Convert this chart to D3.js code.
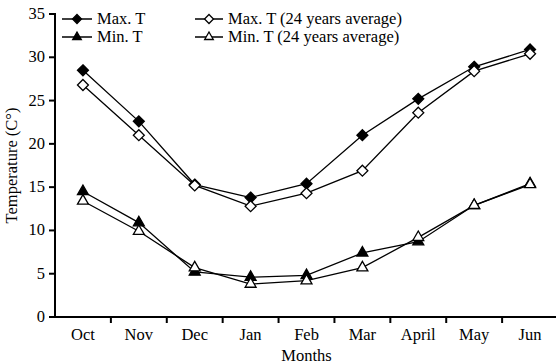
<!DOCTYPE html>
<html>
<head>
<meta charset="utf-8">
<script src="https://cdn.jsdelivr.net/npm/d3@7"></script>
<style>
  html, body { margin: 0; padding: 0; background: #fff; }
  svg { display: block; }
  svg text { font-family: "Liberation Serif", "Times New Roman", Times, serif; font-size: 16.5px; fill: #000; }
</style>
</head>
<body>
<svg id="chart" width="556" height="364"></svg>
<script>
// Monthly temperatures, October to June
const months = ["Oct", "Nov", "Dec", "Jan", "Feb", "Mar", "April", "May", "Jun"];
const maxT = [28.5, 22.6, 15.3, 13.8, 15.4, 21.0, 25.2, 28.9, 30.9];
const maxTAvg = [26.8, 21.0, 15.2, 12.8, 14.3, 16.9, 23.6, 28.4, 30.4];
const minT = [14.5, 10.9, 5.2, 4.6, 4.8, 7.4, 8.7, 12.9, 15.4];
const minTAvg = [13.4, 9.9, 5.7, 3.8, 4.2, 5.7, 9.2, 12.9, 15.3];
const yTicks = [0, 5, 10, 15, 20, 25, 30, 35];

// Diamond drawn as a square turned 45 degrees
const diamond = {
  draw(ctx, size) {
    const r = Math.sqrt(size / 2);
    ctx.moveTo(0, -r); ctx.lineTo(r, 0); ctx.lineTo(0, r); ctx.lineTo(-r, 0); ctx.closePath();
  }
};

const series = [
  { name: "Max. T", values: maxT, shape: diamond, fill: "#000" },
  { name: "Min. T", values: minT, shape: d3.symbolTriangle, fill: "#000" },
  { name: "Max. T (24 years average)", values: maxTAvg, shape: diamond, fill: "#fff" },
  { name: "Min. T (24 years average)", values: minTAvg, shape: d3.symbolTriangle, fill: "#fff" }
];

const svg = d3.select("#chart");
const plotLeft = 55, plotRight = 558, plotTop = 14, plotBottom = 317;

const x = d3.scaleBand().domain(months).range([plotLeft, plotRight]);
const y = d3.scaleLinear().domain([0, 35]).range([plotBottom, plotTop]);
const cx = m => x(m) + x.bandwidth() / 2;

// X axis: ticks between categories, labels centred in each band
const xAxis = svg.append("g").attr("transform", `translate(0,${plotBottom})`);
xAxis.append("line").attr("x1", plotLeft).attr("x2", 556).attr("stroke", "#000").attr("stroke-width", 2);
xAxis.selectAll("line.tk").data(months.slice(1)).join("line").attr("class", "tk")
  .attr("x1", d => x(d)).attr("x2", d => x(d))
  .attr("y1", 0).attr("y2", 6).attr("stroke", "#000").attr("stroke-width", 2);
xAxis.selectAll("text").data(months).join("text")
  .attr("x", d => cx(d))
  .attr("y", 23)
  .attr("text-anchor", "middle")
  .text(d => d);

// Y axis
const yAxis = svg.append("g").attr("transform", `translate(${plotLeft},0)`);
yAxis.append("line").attr("y1", plotTop - 1).attr("y2", plotBottom + 1).attr("stroke", "#000").attr("stroke-width", 2);
yAxis.selectAll("line.tk").data(yTicks).join("line").attr("class", "tk")
  .attr("x1", -6).attr("x2", 0)
  .attr("y1", d => y(d)).attr("y2", d => y(d))
  .attr("stroke", "#000").attr("stroke-width", 2);
yAxis.selectAll("text").data(yTicks).join("text")
  .attr("x", -10).attr("y", d => y(d) + 5)
  .attr("text-anchor", "end")
  .text(d => d);

// Axis titles
svg.append("text")
  .attr("transform", `translate(17,${(plotTop + plotBottom) / 2}) rotate(-90)`)
  .attr("text-anchor", "middle")
  .text("Temperature (C°)");
svg.append("text")
  .attr("x", cx("Feb"))
  .attr("y", 361)
  .attr("text-anchor", "middle")
  .text("Months");

// Lines and markers
const line = d3.line()
  .x((d, i) => cx(months[i]))
  .y(d => y(d));

series.forEach(s => {
  const g = svg.append("g");
  g.append("path").datum(s.values)
    .attr("d", line)
    .attr("fill", "none")
    .attr("stroke", "#000")
    .attr("stroke-width", 1.3);
  g.selectAll("path.m").data(s.values).join("path").attr("class", "m")
    .attr("transform", (d, i) => `translate(${cx(months[i])},${y(d)})`)
    .attr("d", d3.symbol().type(s.shape).size(s.shape === diamond ? 60 : 52))
    .attr("fill", s.fill)
    .attr("stroke", "#000")
    .attr("stroke-width", 1.3);
});

// Legend, two columns
const legendPos = [[62, 19, 30], [62, 37, 30], [195, 19, 28], [195, 37, 28]];
series.forEach((s, i) => {
  const [lx, ly, len] = legendPos[i];
  const g = svg.append("g").attr("transform", `translate(${lx},${ly})`);
  g.append("line").attr("x1", 0).attr("x2", len).attr("stroke", "#000").attr("stroke-width", 1.5);
  g.append("path")
    .attr("transform", `translate(${len / 2},0)`)
    .attr("d", d3.symbol().type(s.shape).size(s.shape === diamond ? 40 : 32))
    .attr("fill", s.fill).attr("stroke", "#000").attr("stroke-width", 1.3);
  g.append("text").attr("x", len + 5).attr("y", 5).text(s.name);
});
</script>
</body>
</html>
